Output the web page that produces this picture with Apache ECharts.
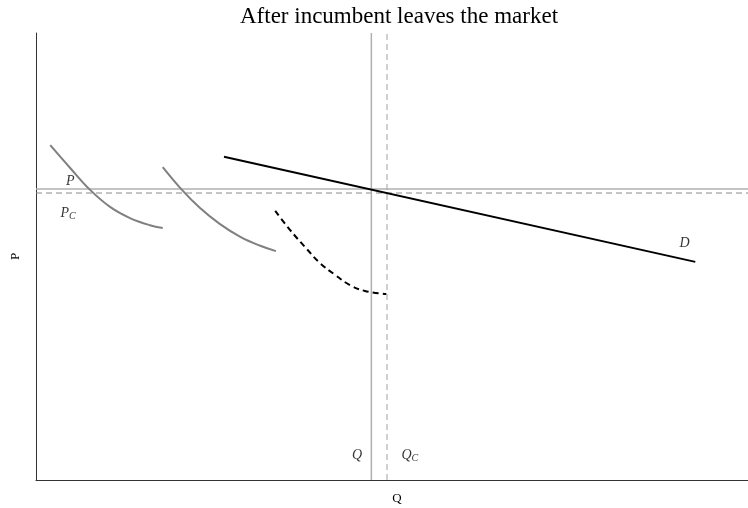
<!DOCTYPE html>
<html><head><meta charset="utf-8">
<script src="https://cdn.jsdelivr.net/npm/echarts@6/dist/echarts.min.js"></script>
<style>html,body{margin:0;padding:0;background:#fff}#c{width:748px;height:508px}</style>
</head><body><div id="c"></div>
<script>
// Data (arbitrary units, axes 0..10)
const demandX = [2.64, 9.26];
const demandY = [7.23, 4.88];
const acc1X = [0.20, 0.48, 0.76, 1.04, 1.32, 1.60, 1.78];
const acc1Y = [7.49, 6.98, 6.49, 6.11, 5.86, 5.70, 5.64];
const acc2X = [1.78, 2.05, 2.30, 2.58, 2.87, 3.15, 3.37];
const acc2Y = [7.00, 6.49, 6.09, 5.73, 5.44, 5.24, 5.12];
const entX = [3.36, 3.57, 3.78, 3.99, 4.20, 4.41, 4.62, 4.92];
const entY = [6.02, 5.59, 5.21, 4.85, 4.59, 4.36, 4.23, 4.16];
const priceP = 6.51, priceC = 6.42;
const qtyQ = 4.71, qtyC = 4.93;
const labelText = ['P', 'P_C', 'Q', 'Q_C', 'D'];
const labelX = [0.48, 0.45, 4.51, 5.25, 9.11];
const labelY = [6.69, 5.97, 0.56, 0.56, 5.30];

const zip = (xs, ys) => xs.map((x, i) => [x, ys[i]]);
const serif = '"Liberation Serif", "DejaVu Serif", serif';

function fmt(t) {
  const p = t.split('_');
  return p.length > 1 ? '{i|' + p[0] + '}{s|' + p[1] + '}' : '{i|' + p[0] + '}';
}

const chart = echarts.init(document.getElementById('c'), null, {renderer: 'canvas'});
chart.setOption({
  animation: false,
  backgroundColor: '#fff',
  title: {
    text: 'After incumbent leaves the market',
    left: 394, top: 0, textAlign: 'center',
    textStyle: {fontFamily: serif, fontSize: 23, fontWeight: 'normal', color: '#000'}
  },
  grid: {left: 36, right: 0, top: 33, bottom: 28, containLabel: false, outerBoundsMode: 'none'},
  xAxis: {
    type: 'value', min: 0, max: 10, name: 'Q', nameLocation: 'middle', nameGap: 12,
    nameTextStyle: {fontFamily: serif, fontSize: 13, color: '#000', padding: [0, 0, 0, 10]},
    axisLine: {show: true, lineStyle: {color: '#333', width: 1}},
    axisTick: {show: false}, axisLabel: {show: false}, splitLine: {show: false}
  },
  yAxis: {
    type: 'value', min: 0, max: 10, name: 'P', nameLocation: 'middle', nameGap: 14,
    nameTextStyle: {fontFamily: serif, fontSize: 13, color: '#000'},
    axisLine: {show: true, lineStyle: {color: '#333', width: 1}},
    axisTick: {show: false}, axisLabel: {show: false}, splitLine: {show: false}
  },
  series: [
    {type: 'line', data: [[0, priceP], [10, priceP]], symbol: 'none',
     lineStyle: {color: '#b0b0b0', width: 1.5}},
    {type: 'line', data: [[0, priceC], [10, priceC]], symbol: 'none',
     lineStyle: {color: '#8a8a8a', width: 1, type: [6, 4]}},
    {type: 'line', data: [[qtyQ, 0], [qtyQ, 10]], symbol: 'none',
     lineStyle: {color: '#b0b0b0', width: 1.5}},
    {type: 'line', data: [[qtyC, 0], [qtyC, 10]], symbol: 'none',
     lineStyle: {color: '#a0a0a0', width: 1, type: [6, 4]}},
    {type: 'line', data: zip(acc1X, acc1Y), symbol: 'none', smooth: 0.4,
     lineStyle: {color: '#808080', width: 2}},
    {type: 'line', data: zip(acc2X, acc2Y), symbol: 'none', smooth: 0.4,
     lineStyle: {color: '#808080', width: 2}},
    {type: 'line', data: zip(entX, entY), symbol: 'none', smooth: 0.4,
     lineStyle: {color: '#000', width: 2, type: [6, 4]}},
    {type: 'line', data: zip(demandX, demandY), symbol: 'none',
     lineStyle: {color: '#000', width: 2}},
    {type: 'scatter', symbolSize: 0, silent: true,
     data: labelX.map((x, i) => ({value: [x, labelY[i]], name: labelText[i]})),
     label: {
       show: true, position: 'inside', color: '#000',
       formatter: p => fmt(p.name),
       rich: {
         i: {fontFamily: serif, fontStyle: 'italic', fontSize: 14, color: '#000'},
         s: {fontFamily: serif, fontStyle: 'italic', fontSize: 10, color: '#000', padding: [7, 0, 0, 0]}
       }
     }}
  ]
});
</script></body></html>
